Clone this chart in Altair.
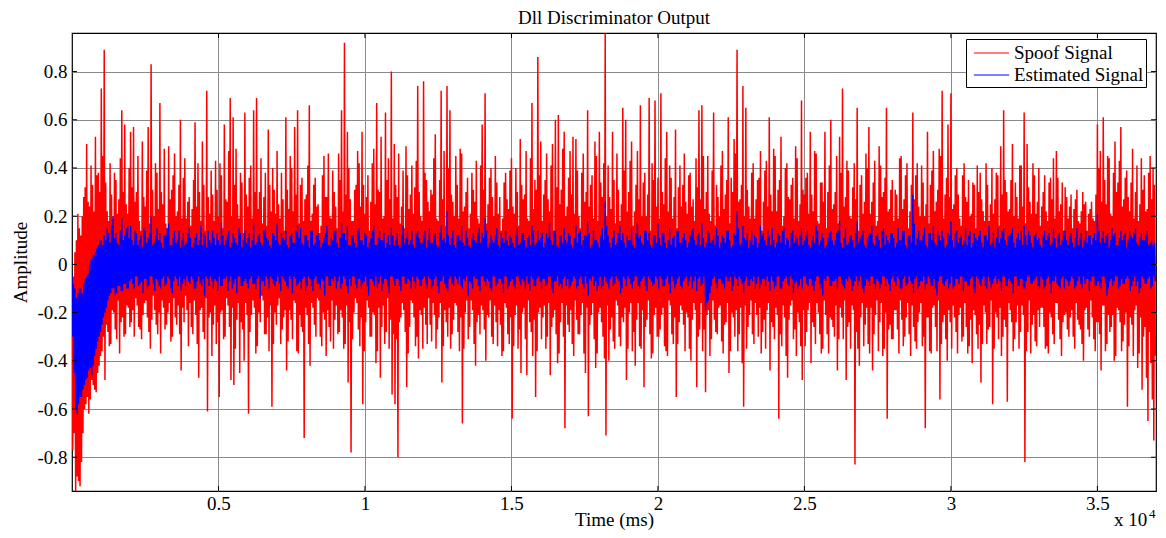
import altair as alt
import pandas as pd

TITLE = "Dll Discriminator Output"
X_TITLE = "Time (ms)"
Y_TITLE = "Amplitude"
SERIES = ["Spoof Signal", "Estimated Signal"]
COLORS = ["#ff0000", "#0000ff"]
X_TICKS = [5000, 10000, 15000, 20000, 25000, 30000, 35000]
Y_TICKS = [-0.8, -0.6, -0.4, -0.2, 0, 0.2, 0.4, 0.6, 0.8]
EXP_BASE = ["x 10"]
EXP_POW = ["4"]
BIN_MS = 100  # per 100 ms slice: peak, trough, second peak, second trough

# ---------------- Spoof signal ----------------
spoof_hi = [
    -0.10, 0.05, 0.21, 0.12, 0.28, 0.50, 0.24, 0.33, 0.53, 0.38,
    0.73, 0.89, 0.22, 0.42, 0.19, 0.35, 0.27, 0.64, 0.58, 0.21,
    0.55, 0.57, 0.30, 0.18, 0.51, 0.24, 0.57, 0.83, 0.20, 0.38,
    0.67, 0.25, 0.17, 0.49, 0.31, 0.46, 0.22, 0.60, 0.36, 0.19,
    0.28, 0.23, 0.59, 0.42, 0.18, 0.33, 0.72, 0.21, 0.29, 0.43,
    0.20, 0.37, 0.58, 0.26, 0.69, 0.61, 0.48, 0.19, 0.34, 0.63,
    0.24, 0.41, 0.64, 0.69, 0.30, 0.17, 0.38, 0.56, 0.22, 0.31,
    0.47, 0.19, 0.27, 0.61, 0.23, 0.40, 0.57, 0.64, 0.33, 0.18,
    0.29, 0.66, 0.21, 0.36, 0.25, 0.16, 0.45, 0.28, 0.20, 0.39,
    0.24, 0.46, 0.64, 0.92, 0.55, 0.27, 0.18, 0.33, 0.42, 0.55,
    0.21, 0.37, 0.26, 0.48, 0.67, 0.30, 0.19, 0.63, 0.44, 0.80,
    0.50, 0.28, 0.17, 0.39, 0.49, 0.23, 0.41, 0.32, 0.74, 0.20,
    0.76, 0.35, 0.22, 0.29, 0.54, 0.18, 0.72, 0.47, 0.74, 0.64,
    0.26, 0.45, 0.19, 0.46, 0.24, 0.36, 0.21, 0.31, 0.43, 0.17,
    0.58, 0.71, 0.25, 0.40, 0.20, 0.34, 0.28, 0.19, 0.38, 0.23,
    0.44, 0.21, 0.30, 0.52, 0.27, 0.47, 0.18, 0.67, 0.35, 0.86,
    0.51, 0.29, 0.46, 0.22, 0.50, 0.60, 0.62, 0.31, 0.55, 0.24,
    0.47, 0.53, 0.52, 0.20, 0.38, 0.26, 0.64, 0.33, 0.19, 0.45,
    0.55, 0.28, 0.96, 0.41, 0.23, 0.35, 0.46, 0.18, 0.65, 0.60,
    0.30, 0.51, 0.22, 0.47, 0.66, 0.34, 0.20, 0.69, 0.42, 0.68,
    0.36, 0.71, 0.25, 0.55, 0.41, 0.19, 0.56, 0.32, 0.24, 0.46,
    0.21, 0.38, 0.27, 0.44, 0.64, 0.66, 0.23, 0.45, 0.18, 0.63,
    0.33, 0.20, 0.47, 0.29, 0.61, 0.36, 0.52, 0.89, 0.27, 0.74,
    0.65, 0.24, 0.38, 0.19, 0.35, 0.47, 0.26, 0.43, 0.61, 0.22,
    0.45, 0.31, 0.53, 0.20, 0.42, 0.27, 0.36, 0.49, 0.18, 0.68,
    0.29, 0.38, 0.55, 0.22, 0.46, 0.17, 0.34, 0.55, 0.30, 0.60,
    0.25, 0.45, 0.53, 0.73, 0.28, 0.39, 0.19, 0.42, 0.65, 0.33,
    0.21, 0.46, 0.57, 0.26, 0.43, 0.18, 0.41, 0.30, 0.65, 0.23,
    0.35, 0.31, 0.19, 0.45, 0.27, 0.42, 0.22, 0.63, 0.37, 0.24,
    0.41, 0.20, 0.55, 0.33, 0.47, 0.26, 0.48, 0.72, 0.29, 0.58,
    0.71, 0.25, 0.40, 0.19, 0.37, 0.28, 0.35, 0.21, 0.33, 0.41,
    0.38, 0.22, 0.42, 0.18, 0.40, 0.27, 0.37, 0.49, 0.64, 0.30,
    0.23, 0.50, 0.34, 0.19, 0.41, 0.63, 0.50, 0.26, 0.42, 0.21,
    0.40, 0.24, 0.37, 0.18, 0.36, 0.44, 0.47, 0.22, 0.34, 0.32,
    0.19, 0.29, 0.23, 0.31, 0.17, 0.30, 0.26, 0.21, 0.26, 0.18,
    0.58, 0.47, 0.61, 0.25, 0.44, 0.20, 0.51, 0.34, 0.57, 0.27,
    0.39, 0.22, 0.48, 0.30, 0.18, 0.44, 0.37, 0.23, 0.45, 0.40,
]
spoof_lo = [
    -0.77, -0.94, -0.90, -0.82, -0.60, -0.55, -0.56, -0.50, -0.53, -0.42,
    -0.36, -0.48, -0.28, -0.33, -0.20, -0.31, -0.37, -0.22, -0.29, -0.18,
    -0.24, -0.30, -0.17, -0.27, -0.21, -0.15, -0.28, -0.23, -0.19, -0.29,
    -0.37, -0.18, -0.25, -0.16, -0.30, -0.22, -0.17, -0.44, -0.24, -0.19,
    -0.16, -0.29, -0.21, -0.47, -0.18, -0.31, -0.61, -0.20, -0.25, -0.33,
    -0.55, -0.19, -0.30, -0.17, -0.48, -0.50, -0.23, -0.45, -0.27, -0.16,
    -0.62, -0.21, -0.18, -0.34, -0.24, -0.15, -0.29, -0.36, -0.59, -0.20,
    -0.17, -0.33, -0.22, -0.44, -0.19, -0.31, -0.16, -0.37, -0.26, -0.72,
    -0.21, -0.42, -0.18, -0.30, -0.15, -0.34, -0.23, -0.19, -0.32, -0.35,
    -0.17, -0.28, -0.22, -0.33, -0.49, -0.78, -0.20, -0.16, -0.34, -0.58,
    -0.24, -0.18, -0.30, -0.21, -0.36, -0.47, -0.17, -0.28, -0.35, -0.54,
    -0.58, -0.80, -0.22, -0.19, -0.51, -0.26, -0.16, -0.34, -0.39, -0.21,
    -0.18, -0.33, -0.25, -0.16, -0.35, -0.22, -0.49, -0.19, -0.30, -0.35,
    -0.23, -0.17, -0.36, -0.66, -0.20, -0.31, -0.15, -0.33, -0.24, -0.29,
    -0.19, -0.40, -0.22, -0.30, -0.17, -0.34, -0.25, -0.36, -0.18, -0.33,
    -0.64, -0.21, -0.35, -0.45, -0.18, -0.46, -0.24, -0.38, -0.55, -0.20,
    -0.31, -0.17, -0.30, -0.46, -0.22, -0.29, -0.37, -0.16, -0.68, -0.25,
    -0.19, -0.38, -0.23, -0.29, -0.16, -0.45, -0.63, -0.21, -0.31, -0.37,
    -0.18, -0.30, -0.71, -0.40, -0.22, -0.35, -0.17, -0.34, -0.24, -0.48,
    -0.20, -0.36, -0.42, -0.16, -0.35, -0.51, -0.23, -0.29, -0.37, -0.18,
    -0.30, -0.21, -0.34, -0.38, -0.17, -0.33, -0.55, -0.24, -0.19, -0.36,
    -0.22, -0.40, -0.16, -0.51, -0.27, -0.36, -0.53, -0.19, -0.31, -0.23,
    -0.29, -0.17, -0.37, -0.24, -0.45, -0.20, -0.30, -0.36, -0.18, -0.59,
    -0.35, -0.21, -0.29, -0.16, -0.30, -0.37, -0.23, -0.19, -0.44, -0.26,
    -0.18, -0.64, -0.34, -0.22, -0.47, -0.17, -0.31, -0.38, -0.24, -0.48,
    -0.34, -0.19, -0.41, -0.26, -0.16, -0.29, -0.35, -0.21, -0.37, -0.23,
    -0.30, -0.44, -0.18, -0.31, -0.48, -0.24, -0.17, -0.83, -0.35, -0.22,
    -0.34, -0.18, -0.37, -0.44, -0.21, -0.36, -0.16, -0.35, -0.64, -0.25,
    -0.31, -0.19, -0.37, -0.23, -0.30, -0.16, -0.38, -0.26, -0.35, -0.20,
    -0.34, -0.68, -0.22, -0.37, -0.17, -0.36, -0.56, -0.24, -0.31, -0.19,
    -0.35, -0.22, -0.37, -0.18, -0.30, -0.26, -0.34, -0.41, -0.21, -0.35,
    -0.49, -0.17, -0.33, -0.26, -0.58, -0.20, -0.31, -0.38, -0.23, -0.57,
    -0.19, -0.36, -0.24, -0.35, -0.17, -0.82, -0.28, -0.37, -0.21, -0.34,
    -0.26, -0.18, -0.35, -0.37, -0.22, -0.33, -0.16, -0.31, -0.24, -0.20,
    -0.30, -0.19, -0.35, -0.23, -0.27, -0.40, -0.18, -0.30, -0.22, -0.36,
    -0.24, -0.44, -0.17, -0.33, -0.28, -0.21, -0.38, -0.19, -0.36, -0.25,
    -0.59, -0.22, -0.38, -0.17, -0.37, -0.52, -0.26, -0.65, -0.41, -0.73,
]
spoof_hi2 = [
    -0.05, 0.10, 0.15, 0.20, 0.32, 0.26, 0.41, 0.22, 0.37, 0.30,
    0.45, 0.34, 0.18, 0.29, 0.38, 0.21, 0.44, 0.30, 0.25, 0.40,
    0.32, 0.26, 0.45, 0.14, 0.28, 0.39, 0.17, 0.31, 0.42, 0.23,
    0.30, 0.48, 0.15, 0.27, 0.37, 0.20, 0.33, 0.19, 0.44, 0.26,
    0.16, 0.35, 0.24, 0.30, 0.51, 0.14, 0.28, 0.39, 0.18, 0.31,
    0.42, 0.15, 0.27, 0.47, 0.20, 0.33, 0.25, 0.38, 0.13, 0.29,
    0.36, 0.19, 0.30, 0.23, 0.44, 0.28, 0.16, 0.33, 0.40, 0.21,
    0.25, 0.38, 0.14, 0.31, 0.45, 0.22, 0.29, 0.17, 0.36, 0.27,
    0.41, 0.18, 0.33, 0.24, 0.13, 0.37, 0.28, 0.46, 0.19, 0.30,
    0.15, 0.35, 0.22, 0.29, 0.40, 0.18, 0.31, 0.47, 0.24, 0.33,
    0.28, 0.14, 0.42, 0.25, 0.31, 0.53, 0.20, 0.35, 0.27, 0.19,
    0.33, 0.46, 0.24, 0.15, 0.37, 0.29, 0.21, 0.43, 0.30, 0.18,
    0.38, 0.26, 0.31, 0.44, 0.19, 0.35, 0.27, 0.16, 0.40, 0.29,
    0.20, 0.33, 0.48, 0.22, 0.30, 0.15, 0.38, 0.26, 0.19, 0.41,
    0.31, 0.17, 0.36, 0.28, 0.45, 0.21, 0.14, 0.34, 0.27, 0.39,
    0.24, 0.40, 0.16, 0.33, 0.29, 0.19, 0.44, 0.23, 0.31, 0.37,
    0.18, 0.35, 0.27, 0.41, 0.14, 0.32, 0.25, 0.48, 0.20, 0.36,
    0.29, 0.21, 0.39, 0.15, 0.46, 0.30, 0.24, 0.37, 0.51, 0.18,
    0.34, 0.42, 0.20, 0.28, 0.55, 0.17, 0.31, 0.25, 0.39, 0.22,
    0.43, 0.16, 0.33, 0.27, 0.20, 0.38, 0.29, 0.14, 0.35, 0.24,
    0.19, 0.30, 0.44, 0.22, 0.36, 0.28, 0.15, 0.41, 0.33, 0.26,
    0.37, 0.24, 0.18, 0.32, 0.27, 0.45, 0.30, 0.21, 0.39, 0.16,
    0.28, 0.41, 0.23, 0.35, 0.17, 0.30, 0.46, 0.26, 0.33, 0.20,
    0.31, 0.19, 0.42, 0.27, 0.36, 0.14, 0.39, 0.24, 0.29, 0.48,
    0.22, 0.35, 0.16, 0.40, 0.28, 0.33, 0.19, 0.44, 0.25, 0.31,
    0.36, 0.21, 0.29, 0.47, 0.18, 0.34, 0.26, 0.15, 0.41, 0.23,
    0.30, 0.17, 0.38, 0.24, 0.43, 0.20, 0.32, 0.27, 0.14, 0.37,
    0.26, 0.40, 0.21, 0.34, 0.16, 0.49, 0.28, 0.36, 0.22, 0.31,
    0.18, 0.29, 0.44, 0.23, 0.37, 0.15, 0.33, 0.27, 0.42, 0.20,
    0.34, 0.25, 0.17, 0.39, 0.22, 0.31, 0.45, 0.19, 0.36, 0.28,
    0.23, 0.37, 0.29, 0.16, 0.42, 0.26, 0.20, 0.34, 0.15, 0.30,
    0.27, 0.18, 0.33, 0.25, 0.21, 0.38, 0.16, 0.29, 0.35, 0.22,
    0.35, 0.20, 0.28, 0.41, 0.24, 0.17, 0.32, 0.21, 0.37, 0.26,
    0.16, 0.30, 0.22, 0.34, 0.27, 0.19, 0.36, 0.25, 0.14, 0.28,
    0.24, 0.15, 0.27, 0.18, 0.22, 0.25, 0.14, 0.23, 0.19, 0.29,
    0.40, 0.26, 0.35, 0.45, 0.21, 0.38, 0.30, 0.43, 0.24, 0.36,
    0.28, 0.34, 0.19, 0.41, 0.25, 0.31, 0.22, 0.38, 0.27, 0.33,
]
spoof_lo2 = [
    -0.70, -0.88, -0.92, -0.70, -0.58, -0.62, -0.48, -0.52, -0.45, -0.38,
    -0.30, -0.25, -0.34, -0.19, -0.27, -0.15, -0.24, -0.30, -0.17, -0.26,
    -0.19, -0.14, -0.26, -0.31, -0.16, -0.22, -0.35, -0.13, -0.25, -0.20,
    -0.15, -0.27, -0.20, -0.32, -0.14, -0.25, -0.29, -0.18, -0.13, -0.34,
    -0.26, -0.15, -0.33, -0.19, -0.28, -0.14, -0.22, -0.38, -0.17, -0.24,
    -0.20, -0.31, -0.14, -0.26, -0.18, -0.35, -0.16, -0.24, -0.40, -0.21,
    -0.28, -0.15, -0.37, -0.20, -0.13, -0.29, -0.22, -0.17, -0.33, -0.25,
    -0.14, -0.27, -0.19, -0.32, -0.23, -0.15, -0.36, -0.21, -0.28, -0.18,
    -0.33, -0.16, -0.25, -0.14, -0.30, -0.20, -0.38, -0.26, -0.15, -0.23,
    -0.29, -0.19, -0.35, -0.17, -0.24, -0.31, -0.14, -0.27, -0.22, -0.36,
    -0.15, -0.30, -0.20, -0.41, -0.18, -0.26, -0.33, -0.14, -0.23, -0.29,
    -0.31, -0.24, -0.16, -0.28, -0.37, -0.15, -0.22, -0.30, -0.19, -0.35,
    -0.25, -0.14, -0.32, -0.21, -0.27, -0.16, -0.34, -0.24, -0.18, -0.29,
    -0.16, -0.28, -0.22, -0.35, -0.15, -0.26, -0.19, -0.42, -0.21, -0.17,
    -0.27, -0.21, -0.15, -0.33, -0.24, -0.19, -0.38, -0.16, -0.29, -0.22,
    -0.34, -0.17, -0.27, -0.20, -0.31, -0.15, -0.28, -0.23, -0.36, -0.18,
    -0.22, -0.35, -0.16, -0.26, -0.19, -0.41, -0.24, -0.30, -0.17, -0.28,
    -0.33, -0.15, -0.29, -0.21, -0.37, -0.18, -0.25, -0.16, -0.43, -0.20,
    -0.24, -0.39, -0.17, -0.27, -0.32, -0.15, -0.30, -0.22, -0.18, -0.35,
    -0.16, -0.28, -0.23, -0.34, -0.19, -0.26, -0.15, -0.39, -0.21, -0.30,
    -0.27, -0.18, -0.36, -0.15, -0.29, -0.22, -0.33, -0.17, -0.25, -0.20,
    -0.35, -0.23, -0.19, -0.30, -0.16, -0.27, -0.21, -0.38, -0.15, -0.28,
    -0.18, -0.32, -0.25, -0.16, -0.36, -0.22, -0.19, -0.29, -0.41, -0.17,
    -0.26, -0.15, -0.33, -0.21, -0.18, -0.28, -0.35, -0.16, -0.24, -0.31,
    -0.21, -0.29, -0.17, -0.38, -0.23, -0.15, -0.27, -0.20, -0.34, -0.19,
    -0.28, -0.16, -0.24, -0.33, -0.20, -0.37, -0.15, -0.29, -0.22, -0.26,
    -0.17, -0.31, -0.22, -0.15, -0.26, -0.35, -0.19, -0.28, -0.42, -0.16,
    -0.25, -0.33, -0.18, -0.29, -0.15, -0.24, -0.38, -0.20, -0.27, -0.31,
    -0.19, -0.27, -0.15, -0.34, -0.22, -0.29, -0.17, -0.32, -0.24, -0.16,
    -0.30, -0.22, -0.36, -0.18, -0.26, -0.15, -0.33, -0.21, -0.40, -0.24,
    -0.17, -0.28, -0.21, -0.32, -0.16, -0.37, -0.23, -0.19, -0.29, -0.25,
    -0.33, -0.20, -0.27, -0.15, -0.35, -0.22, -0.18, -0.30, -0.26, -0.16,
    -0.24, -0.31, -0.17, -0.28, -0.21, -0.36, -0.15, -0.25, -0.32, -0.19,
    -0.18, -0.26, -0.34, -0.20, -0.29, -0.16, -0.23, -0.38, -0.21, -0.27,
    -0.22, -0.30, -0.16, -0.25, -0.33, -0.19, -0.27, -0.15, -0.31, -0.24,
    -0.29, -0.17, -0.36, -0.21, -0.26, -0.40, -0.18, -0.24, -0.32, -0.20,
    -0.34, -0.25, -0.19, -0.43, -0.22, -0.30, -0.47, -0.28, -0.56, -0.38,
]

# ---------------- Estimated signal ----------------
est_hi = [
    -0.04, -0.10, -0.12, -0.10, -0.08, -0.05, 0.00, 0.03, 0.05, 0.08,
    0.10, 0.12, 0.15, 0.09, 0.20, 0.13, 0.08, 0.19, 0.12, 0.16,
    0.16, 0.08, 0.13, 0.10, 0.07, 0.14, 0.11, 0.20, 0.09, 0.15,
    0.13, 0.07, 0.12, 0.17, 0.08, 0.14, 0.10, 0.07, 0.13, 0.09,
    0.15, 0.07, 0.11, 0.08, 0.16, 0.13, 0.07, 0.10, 0.14, 0.08,
    0.10, 0.17, 0.08, 0.12, 0.07, 0.13, 0.09, 0.15, 0.07, 0.14,
    0.11, 0.07, 0.17, 0.09, 0.13, 0.08, 0.15, 0.10, 0.07, 0.12,
    0.17, 0.08, 0.11, 0.14, 0.07, 0.13, 0.09, 0.16, 0.15, 0.08,
    0.12, 0.07, 0.14, 0.09, 0.13, 0.07, 0.11, 0.16, 0.08, 0.10,
    0.14, 0.07, 0.17, 0.13, 0.16, 0.08, 0.12, 0.07, 0.15, 0.10,
    0.13, 0.07, 0.11, 0.16, 0.08, 0.14, 0.10, 0.07, 0.12, 0.15,
    0.08, 0.13, 0.07, 0.16, 0.11, 0.08, 0.14, 0.07, 0.14, 0.09,
    0.12, 0.07, 0.15, 0.09, 0.13, 0.07, 0.16, 0.11, 0.22, 0.08,
    0.14, 0.07, 0.12, 0.16, 0.08, 0.11, 0.07, 0.13, 0.09, 0.15,
    0.13, 0.19, 0.07, 0.12, 0.09, 0.15, 0.07, 0.11, 0.14, 0.08,
    0.11, 0.07, 0.15, 0.09, 0.13, 0.07, 0.12, 0.16, 0.08, 0.14,
    0.11, 0.07, 0.13, 0.17, 0.08, 0.14, 0.07, 0.12, 0.15, 0.09,
    0.12, 0.07, 0.16, 0.13, 0.08, 0.12, 0.18, 0.07, 0.14, 0.10,
    0.07, 0.15, 0.26, 0.12, 0.07, 0.14, 0.09, 0.16, 0.13, 0.07,
    0.10, 0.15, 0.07, 0.17, 0.12, 0.08, 0.14, 0.13, 0.07, 0.12,
    0.17, 0.08, 0.13, 0.07, 0.15, 0.11, 0.07, 0.14, 0.09, 0.13,
    0.07, 0.12, 0.15, 0.08, 0.13, 0.17, 0.07, 0.14, 0.09, 0.12,
    0.15, 0.07, 0.12, 0.09, 0.14, 0.07, 0.13, 0.22, 0.08, 0.16,
    0.10, 0.07, 0.14, 0.12, 0.07, 0.16, 0.13, 0.08, 0.12, 0.15,
    0.07, 0.13, 0.09, 0.15, 0.11, 0.07, 0.14, 0.12, 0.08, 0.15,
    0.10, 0.14, 0.07, 0.12, 0.16, 0.08, 0.13, 0.07, 0.11, 0.14,
    0.08, 0.13, 0.18, 0.07, 0.15, 0.09, 0.12, 0.07, 0.18, 0.11,
    0.14, 0.07, 0.12, 0.16, 0.08, 0.13, 0.07, 0.15, 0.12, 0.09,
    0.13, 0.07, 0.15, 0.10, 0.14, 0.07, 0.12, 0.29, 0.08, 0.14,
    0.10, 0.15, 0.07, 0.13, 0.16, 0.08, 0.12, 0.14, 0.07, 0.13,
    0.18, 0.07, 0.14, 0.11, 0.08, 0.15, 0.12, 0.07, 0.13, 0.10,
    0.14, 0.07, 0.12, 0.16, 0.09, 0.07, 0.15, 0.11, 0.15, 0.08,
    0.12, 0.15, 0.07, 0.13, 0.14, 0.16, 0.08, 0.12, 0.07, 0.13,
    0.11, 0.07, 0.14, 0.12, 0.08, 0.15, 0.07, 0.13, 0.10, 0.14,
    0.08, 0.13, 0.07, 0.15, 0.11, 0.07, 0.14, 0.12, 0.08, 0.13,
    0.21, 0.09, 0.14, 0.12, 0.07, 0.15, 0.13, 0.08, 0.14, 0.12,
    0.07, 0.14, 0.11, 0.15, 0.08, 0.13, 0.10, 0.14, 0.09, 0.08,
]
est_lo = [
    -0.30, -0.60, -0.58, -0.55, -0.50, -0.47, -0.43, -0.42, -0.35, -0.30,
    -0.25, -0.20, -0.15, -0.12, -0.10, -0.12, -0.09, -0.11, -0.08, -0.10,
    -0.06, -0.10, -0.05, -0.08, -0.12, -0.06, -0.09, -0.05, -0.11, -0.07,
    -0.10, -0.05, -0.08, -0.06, -0.12, -0.05, -0.09, -0.11, -0.06, -0.05,
    -0.08, -0.06, -0.10, -0.05, -0.09, -0.13, -0.06, -0.05, -0.10, -0.07,
    -0.05, -0.09, -0.06, -0.11, -0.05, -0.08, -0.12, -0.05, -0.09, -0.06,
    -0.10, -0.05, -0.08, -0.06, -0.14, -0.07, -0.05, -0.10, -0.06, -0.09,
    -0.05, -0.11, -0.06, -0.09, -0.05, -0.12, -0.06, -0.08, -0.10, -0.05,
    -0.09, -0.06, -0.11, -0.05, -0.08, -0.06, -0.13, -0.05, -0.09, -0.07,
    -0.10, -0.05, -0.08, -0.06, -0.12, -0.09, -0.05, -0.10, -0.06, -0.08,
    -0.05, -0.13, -0.06, -0.09, -0.10, -0.05, -0.08, -0.06, -0.12, -0.05,
    -0.09, -0.06, -0.11, -0.05, -0.08, -0.07, -0.05, -0.10, -0.06, -0.09,
    -0.05, -0.10, -0.06, -0.09, -0.05, -0.12, -0.07, -0.08, -0.11, -0.05,
    -0.09, -0.06, -0.05, -0.10, -0.07, -0.13, -0.08, -0.05, -0.06, -0.11,
    -0.05, -0.09, -0.07, -0.11, -0.05, -0.08, -0.06, -0.12, -0.05, -0.09,
    -0.06, -0.10, -0.05, -0.09, -0.07, -0.05, -0.11, -0.06, -0.09, -0.05,
    -0.10, -0.06, -0.08, -0.05, -0.12, -0.07, -0.09, -0.10, -0.05, -0.06,
    -0.09, -0.05, -0.10, -0.06, -0.08, -0.05, -0.13, -0.07, -0.09, -0.11,
    -0.05, -0.09, -0.07, -0.10, -0.05, -0.08, -0.06, -0.12, -0.05, -0.09,
    -0.06, -0.10, -0.05, -0.09, -0.07, -0.05, -0.11, -0.06, -0.09, -0.05,
    -0.10, -0.06, -0.09, -0.05, -0.12, -0.07, -0.08, -0.05, -0.10, -0.06,
    -0.09, -0.05, -0.07, -0.11, -0.05, -0.08, -0.19, -0.15, -0.09, -0.05,
    -0.10, -0.06, -0.08, -0.05, -0.07, -0.11, -0.05, -0.09, -0.06, -0.12,
    -0.05, -0.09, -0.07, -0.10, -0.05, -0.08, -0.06, -0.05, -0.11, -0.07,
    -0.09, -0.05, -0.10, -0.06, -0.08, -0.05, -0.12, -0.07, -0.09, -0.10,
    -0.05, -0.09, -0.06, -0.11, -0.05, -0.08, -0.13, -0.07, -0.05, -0.09,
    -0.07, -0.10, -0.05, -0.09, -0.06, -0.05, -0.11, -0.07, -0.09, -0.05,
    -0.12, -0.06, -0.09, -0.05, -0.10, -0.07, -0.08, -0.05, -0.06, -0.11,
    -0.05, -0.09, -0.06, -0.10, -0.05, -0.08, -0.07, -0.12, -0.05, -0.09,
    -0.07, -0.10, -0.05, -0.09, -0.06, -0.13, -0.05, -0.08, -0.07, -0.10,
    -0.05, -0.09, -0.06, -0.05, -0.11, -0.07, -0.09, -0.05, -0.12, -0.06,
    -0.09, -0.05, -0.10, -0.07, -0.08, -0.05, -0.06, -0.11, -0.05, -0.09,
    -0.07, -0.12, -0.05, -0.09, -0.06, -0.10, -0.05, -0.08, -0.07, -0.05,
    -0.10, -0.06, -0.09, -0.05, -0.12, -0.07, -0.08, -0.10, -0.05, -0.06,
    -0.09, -0.05, -0.10, -0.07, -0.08, -0.05, -0.06, -0.11, -0.05, -0.09,
    -0.07, -0.10, -0.05, -0.13, -0.07, -0.09, -0.05, -0.10, -0.06, -0.08,
    -0.05, -0.11, -0.07, -0.09, -0.12, -0.05, -0.08, -0.06, -0.10, -0.05,
]
est_hi2 = [
    -0.08, -0.14, -0.10, -0.12, -0.06, -0.04, 0.02, 0.04, 0.07, 0.10,
    0.08, 0.10, 0.13, 0.16, 0.11, 0.09, 0.14, 0.10, 0.15, 0.11,
    0.10, 0.14, 0.08, 0.12, 0.15, 0.09, 0.13, 0.08, 0.12, 0.10,
    0.09, 0.12, 0.15, 0.08, 0.11, 0.09, 0.14, 0.10, 0.08, 0.13,
    0.11, 0.09, 0.13, 0.10, 0.08, 0.12, 0.14, 0.09, 0.11, 0.13,
    0.08, 0.12, 0.10, 0.14, 0.09, 0.11, 0.08, 0.13, 0.10, 0.09,
    0.13, 0.10, 0.08, 0.12, 0.09, 0.14, 0.11, 0.08, 0.13, 0.10,
    0.09, 0.13, 0.10, 0.08, 0.12, 0.09, 0.14, 0.11, 0.09, 0.12,
    0.10, 0.14, 0.08, 0.12, 0.10, 0.09, 0.13, 0.08, 0.11, 0.14,
    0.09, 0.11, 0.13, 0.10, 0.08, 0.12, 0.09, 0.14, 0.10, 0.08,
    0.12, 0.09, 0.14, 0.08, 0.11, 0.10, 0.13, 0.09, 0.08, 0.12,
    0.10, 0.08, 0.12, 0.09, 0.14, 0.10, 0.08, 0.13, 0.11, 0.09,
    0.14, 0.10, 0.09, 0.12, 0.08, 0.13, 0.10, 0.09, 0.12, 0.11,
    0.08, 0.12, 0.10, 0.09, 0.14, 0.08, 0.11, 0.10, 0.13, 0.09,
    0.11, 0.14, 0.09, 0.10, 0.12, 0.08, 0.13, 0.09, 0.10, 0.12,
    0.09, 0.12, 0.08, 0.13, 0.10, 0.11, 0.08, 0.14, 0.09, 0.10,
    0.13, 0.09, 0.11, 0.10, 0.14, 0.08, 0.12, 0.09, 0.10, 0.13,
    0.08, 0.11, 0.09, 0.14, 0.10, 0.12, 0.13, 0.08, 0.10, 0.09,
    0.12, 0.10, 0.16, 0.09, 0.11, 0.08, 0.13, 0.10, 0.09, 0.12,
    0.10, 0.08, 0.13, 0.11, 0.09, 0.14, 0.10, 0.08, 0.12, 0.09,
    0.11, 0.13, 0.09, 0.10, 0.08, 0.12, 0.14, 0.09, 0.11, 0.10,
    0.09, 0.14, 0.10, 0.12, 0.08, 0.11, 0.09, 0.13, 0.10, 0.08,
    0.12, 0.09, 0.11, 0.14, 0.10, 0.08, 0.12, 0.15, 0.09, 0.11,
    0.13, 0.10, 0.08, 0.11, 0.09, 0.12, 0.10, 0.14, 0.08, 0.10,
    0.09, 0.12, 0.14, 0.08, 0.10, 0.13, 0.09, 0.11, 0.12, 0.08,
    0.12, 0.08, 0.10, 0.09, 0.14, 0.10, 0.11, 0.08, 0.13, 0.10,
    0.10, 0.14, 0.09, 0.11, 0.08, 0.12, 0.10, 0.13, 0.09, 0.12,
    0.08, 0.11, 0.13, 0.09, 0.12, 0.10, 0.14, 0.08, 0.10, 0.13,
    0.11, 0.09, 0.10, 0.14, 0.08, 0.12, 0.09, 0.17, 0.11, 0.10,
    0.12, 0.08, 0.13, 0.10, 0.09, 0.14, 0.10, 0.11, 0.08, 0.12,
    0.10, 0.13, 0.09, 0.12, 0.10, 0.08, 0.14, 0.09, 0.11, 0.12,
    0.09, 0.12, 0.10, 0.08, 0.13, 0.11, 0.09, 0.14, 0.10, 0.12,
    0.13, 0.09, 0.11, 0.10, 0.08, 0.12, 0.14, 0.09, 0.12, 0.10,
    0.08, 0.12, 0.10, 0.13, 0.09, 0.11, 0.12, 0.08, 0.14, 0.10,
    0.12, 0.09, 0.11, 0.08, 0.13, 0.10, 0.09, 0.12, 0.11, 0.10,
    0.14, 0.11, 0.09, 0.13, 0.10, 0.12, 0.08, 0.11, 0.10, 0.13,
    0.10, 0.12, 0.13, 0.09, 0.11, 0.10, 0.12, 0.08, 0.10, 0.09,
]
est_lo2 = [
    -0.45, -0.62, -0.55, -0.52, -0.48, -0.44, -0.46, -0.38, -0.32, -0.28,
    -0.22, -0.18, -0.13, -0.10, -0.13, -0.09, -0.11, -0.08, -0.10, -0.07,
    -0.08, -0.05, -0.09, -0.07, -0.06, -0.10, -0.05, -0.08, -0.06, -0.09,
    -0.06, -0.09, -0.05, -0.10, -0.07, -0.06, -0.05, -0.08, -0.09, -0.07,
    -0.05, -0.10, -0.07, -0.08, -0.06, -0.05, -0.09, -0.07, -0.06, -0.11,
    -0.09, -0.06, -0.05, -0.07, -0.10, -0.06, -0.05, -0.09, -0.07, -0.08,
    -0.06, -0.08, -0.10, -0.05, -0.07, -0.09, -0.06, -0.05, -0.08, -0.07,
    -0.08, -0.05, -0.07, -0.10, -0.06, -0.05, -0.09, -0.07, -0.06, -0.11,
    -0.05, -0.09, -0.06, -0.08, -0.10, -0.07, -0.05, -0.09, -0.06, -0.05,
    -0.07, -0.10, -0.05, -0.09, -0.06, -0.05, -0.08, -0.06, -0.10, -0.07,
    -0.09, -0.06, -0.07, -0.05, -0.08, -0.11, -0.06, -0.09, -0.05, -0.07,
    -0.06, -0.09, -0.05, -0.08, -0.06, -0.10, -0.07, -0.05, -0.09, -0.06,
    -0.08, -0.05, -0.10, -0.06, -0.09, -0.07, -0.05, -0.10, -0.06, -0.08,
    -0.05, -0.08, -0.09, -0.06, -0.05, -0.07, -0.10, -0.06, -0.09, -0.05,
    -0.07, -0.06, -0.10, -0.05, -0.09, -0.06, -0.08, -0.05, -0.10, -0.07,
    -0.09, -0.05, -0.07, -0.06, -0.10, -0.08, -0.05, -0.09, -0.06, -0.07,
    -0.06, -0.09, -0.05, -0.10, -0.07, -0.05, -0.08, -0.06, -0.09, -0.10,
    -0.07, -0.06, -0.09, -0.05, -0.10, -0.08, -0.06, -0.05, -0.07, -0.09,
    -0.10, -0.05, -0.08, -0.06, -0.09, -0.05, -0.07, -0.10, -0.06, -0.05,
    -0.08, -0.07, -0.05, -0.10, -0.06, -0.09, -0.05, -0.07, -0.08, -0.06,
    -0.05, -0.09, -0.06, -0.08, -0.05, -0.10, -0.06, -0.09, -0.07, -0.05,
    -0.07, -0.10, -0.05, -0.06, -0.09, -0.05, -0.16, -0.12, -0.06, -0.08,
    -0.06, -0.08, -0.10, -0.07, -0.05, -0.09, -0.06, -0.05, -0.08, -0.07,
    -0.09, -0.06, -0.05, -0.08, -0.10, -0.06, -0.09, -0.07, -0.05, -0.10,
    -0.05, -0.10, -0.07, -0.05, -0.09, -0.06, -0.08, -0.10, -0.06, -0.05,
    -0.08, -0.06, -0.09, -0.07, -0.05, -0.10, -0.06, -0.05, -0.09, -0.07,
    -0.06, -0.05, -0.08, -0.10, -0.07, -0.06, -0.09, -0.05, -0.07, -0.10,
    -0.09, -0.07, -0.05, -0.08, -0.06, -0.10, -0.05, -0.09, -0.08, -0.06,
    -0.07, -0.05, -0.10, -0.06, -0.09, -0.05, -0.08, -0.06, -0.10, -0.07,
    -0.05, -0.08, -0.06, -0.09, -0.10, -0.07, -0.05, -0.09, -0.06, -0.08,
    -0.10, -0.06, -0.08, -0.05, -0.07, -0.09, -0.06, -0.10, -0.05, -0.08,
    -0.06, -0.09, -0.05, -0.10, -0.06, -0.08, -0.07, -0.05, -0.09, -0.06,
    -0.08, -0.05, -0.09, -0.06, -0.10, -0.07, -0.05, -0.08, -0.06, -0.09,
    -0.05, -0.10, -0.06, -0.08, -0.07, -0.05, -0.09, -0.06, -0.10, -0.07,
    -0.07, -0.06, -0.09, -0.05, -0.10, -0.08, -0.06, -0.07, -0.05, -0.09,
    -0.09, -0.05, -0.08, -0.10, -0.06, -0.07, -0.05, -0.09, -0.08, -0.06,
    -0.06, -0.09, -0.05, -0.07, -0.10, -0.06, -0.08, -0.05, -0.09, -0.07,
]


def series_frame(hi, lo, hi2, lo2, name):
    rows = []
    q = BIN_MS // 4
    for i in range(len(hi)):
        t0 = i * BIN_MS
        rows.append({"t": t0, "v": hi[i], "series": name})
        rows.append({"t": t0 + q, "v": lo[i], "series": name})
        rows.append({"t": t0 + 2 * q, "v": hi2[i], "series": name})
        rows.append({"t": t0 + 3 * q, "v": lo2[i], "series": name})
    return pd.DataFrame(rows)


spoof_df = series_frame(spoof_hi, spoof_lo, spoof_hi2, spoof_lo2, SERIES[0])
est_df = series_frame(est_hi, est_lo, est_hi2, est_lo2, SERIES[1])
xtick_df = pd.DataFrame({"t": X_TICKS})
ytick_df = pd.DataFrame({"v": Y_TICKS})

FONT = "Liberation Serif"
FS = 19
PLOT_W, PLOT_H = 1084, 458
X_SCALE = alt.Scale(domain=[0, 37000], nice=False, zero=False)
Y_SCALE = alt.Scale(domain=[-0.94, 0.96], nice=False, zero=False)

x_enc = alt.X(
    "t:Q", scale=X_SCALE,
    axis=alt.Axis(
        values=X_TICKS, labelExpr="toString(datum.value / 10000)",
        title=X_TITLE, titleY=34, titleBaseline="alphabetic",
        labelPadding=3, tickSize=0, domain=False,
    ),
)
y_enc = alt.Y(
    "v:Q", scale=Y_SCALE,
    axis=alt.Axis(
        values=Y_TICKS,
        labelExpr="datum.value == 0 ? '0' : toString(round(datum.value * 10) / 10)",
        title=Y_TITLE, titleX=-46, titleY=PLOT_H / 2, titleAngle=270,
        titleBaseline="alphabetic", labelPadding=5, tickSize=0, domain=False,
    ),
)
color_enc = alt.Color(
    "series:N",
    scale=alt.Scale(domain=SERIES, range=COLORS),
    legend=alt.Legend(
        title=None, orient="none", legendX=894, legendY=6,
        symbolType="M-1.6,0H1.6", symbolSize=484, symbolStrokeWidth=1.2,
        symbolOffset=11.5, labelOffset=10.5, padding=2, rowPadding=0,
        labelFont=FONT, labelFontSize=FS, labelColor="black",
        strokeColor="black", fillColor="white", labelLimit=300,
    ),
)

spoof_line = alt.Chart(spoof_df).mark_line(strokeWidth=1.5, clip=True).encode(
    x=x_enc, y=y_enc, color=color_enc
)
est_line = alt.Chart(est_df).mark_line(strokeWidth=1.3, clip=True).encode(
    x=x_enc, y=y_enc, color=color_enc
)

# inward tick marks on all four sides of the box
tick_style = dict(color="black", strokeWidth=1)
xt_top = alt.Chart(xtick_df).mark_rule(**tick_style).encode(
    x=alt.X("t:Q", scale=X_SCALE), y=alt.value(0), y2=alt.value(5))
xt_bot = alt.Chart(xtick_df).mark_rule(**tick_style).encode(
    x=alt.X("t:Q", scale=X_SCALE), y=alt.value(PLOT_H - 5), y2=alt.value(PLOT_H))
yt_left = alt.Chart(ytick_df).mark_rule(**tick_style).encode(
    y=alt.Y("v:Q", scale=Y_SCALE), x=alt.value(0), x2=alt.value(5))
yt_right = alt.Chart(ytick_df).mark_rule(**tick_style).encode(
    y=alt.Y("v:Q", scale=Y_SCALE), x=alt.value(PLOT_W - 5), x2=alt.value(PLOT_W))

exp_base = alt.Chart(pd.DataFrame({"txt": EXP_BASE})).mark_text(
    font=FONT, fontSize=FS, align="left", baseline="alphabetic", color="black"
).encode(text="txt:N", x=alt.value(PLOT_W - 42), y=alt.value(PLOT_H + 35))
exp_pow = alt.Chart(pd.DataFrame({"txt": EXP_POW})).mark_text(
    font=FONT, fontSize=13, align="left", baseline="alphabetic", color="black"
).encode(text="txt:N", x=alt.value(PLOT_W - 7), y=alt.value(PLOT_H + 27))

chart = (
    alt.layer(spoof_line, est_line, xt_top, xt_bot, yt_left, yt_right, exp_base, exp_pow)
    .properties(
        width=PLOT_W, height=PLOT_H,
        title=alt.TitleParams(TITLE, font=FONT, fontSize=FS, fontWeight="normal",
                              color="black", anchor="middle", offset=5),
        autosize=alt.AutoSizeParams(type="none"),
        padding={"left": 64, "top": 25, "right": 2, "bottom": 39},
    )
    .configure_axis(
        labelFont=FONT, labelFontSize=FS, labelColor="black",
        titleFont=FONT, titleFontSize=FS, titleColor="black", titleFontWeight="normal",
        grid=True, gridColor="#8a8a8a", gridWidth=1, gridOpacity=1,
    )
    .configure_view(stroke="black", strokeWidth=1.2)
)

chart.save("out.html", embed_options={"renderer": "svg", "actions": False})
